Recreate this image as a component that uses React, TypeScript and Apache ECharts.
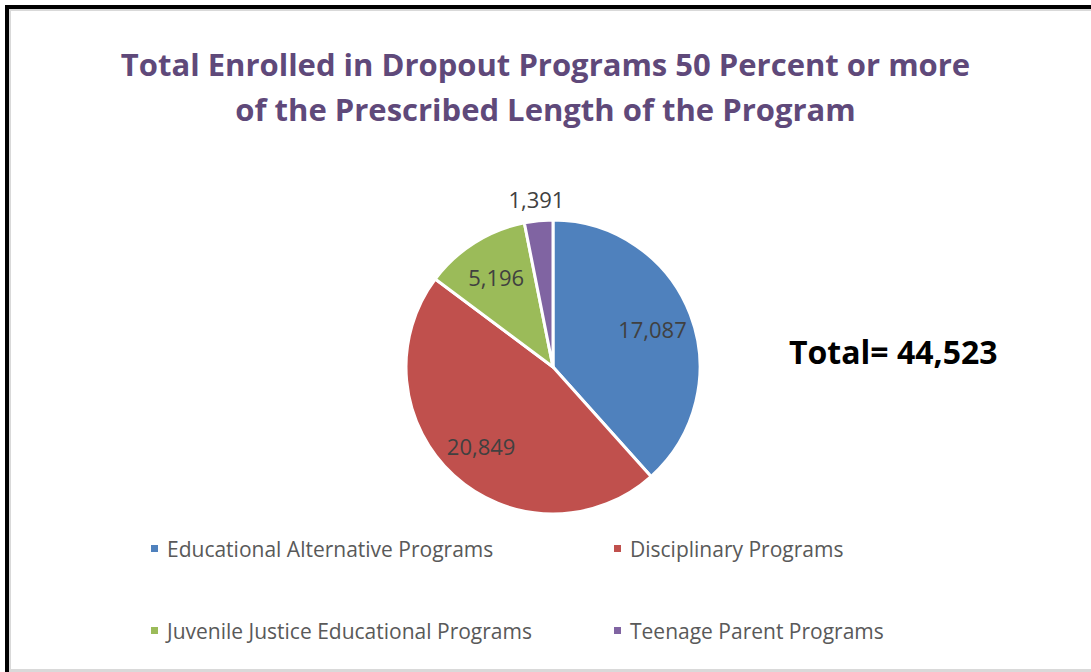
import React, { useEffect, useRef } from "react";
import * as echarts from "echarts";

const categories = [
  "Educational Alternative Programs",
  "Disciplinary Programs",
  "Juvenile Justice Educational Programs",
  "Teenage Parent Programs",
];
const values = [17087, 20849, 5196, 1391];
const colors = ["#4F81BD", "#C0504D", "#9BBB59", "#8064A2"];
const titleText = "Total Enrolled in Dropout Programs 50 Percent or more\nof the Prescribed Length of the Program";
const totalText = "Total= 44,523";

const FONT = "'Open Sans', 'Noto Sans', sans-serif";

const fmt = (v: number) => v.toLocaleString("en-US");

export default function App() {
  const ref = useRef<HTMLDivElement>(null);
  useEffect(() => {
    if (!ref.current) return;
    const chart = echarts.init(ref.current, null, { renderer: "svg" });
    const data = categories.map((name, i) => ({
      name,
      value: values[i],
      itemStyle: { color: colors[i] },
    }));
    const center = [553, 367];
    const legendPos = [
      { left: 144, top: 533 },
      { left: 607, top: 533 },
      { left: 144, top: 615 },
      { left: 607, top: 615 },
    ];
    const labelStyle = {
      show: true,
      position: "inside",
      formatter: (p: any) => fmt(p.value),
      fontFamily: FONT,
      fontSize: 22,
      color: "#404040",
    };
    chart.setOption({
      animation: false,
      title: {
        text: titleText,
        left: "center",
        top: 36,
        textStyle: {
          fontFamily: FONT,
          fontWeight: "bold",
          fontSize: 31,
          lineHeight: 45,
          color: "#5F497A",
        },
      },
      legend: categories.map((name, i) => ({
        data: [name],
        left: legendPos[i].left,
        top: legendPos[i].top,
        icon: "rect",
        itemWidth: 9,
        itemHeight: 9,
        selectedMode: false,
        textStyle: {
          fontFamily: FONT,
          fontSize: 21,
          color: "#595959",
          padding: [0, 0, 0, 3],
        },
      })),
      graphic: [
        { type: "rect", shape: { x: 5, y: 5, width: 4, height: 667 }, style: { fill: "#000" } },
        { type: "rect", shape: { x: 5, y: 5, width: 1086, height: 4 }, style: { fill: "#000" } },
        { type: "rect", shape: { x: 9, y: 9, width: 2, height: 663 }, style: { fill: "#D9D9D9" } },
        { type: "rect", shape: { x: 9, y: 9, width: 1082, height: 2 }, style: { fill: "#D9D9D9" } },
        { type: "rect", shape: { x: 9, y: 669, width: 1082, height: 3 }, style: { fill: "#D9D9D9" } },
        {
          type: "text",
          x: 789,
          y: 351,
          style: {
            text: totalText,
            fontFamily: FONT,
            fontWeight: "bold",
            fontSize: 32,
            fill: "#000",
            verticalAlign: "middle",
            textAlign: "left",
          },
        },
      ],
      series: [
        {
          type: "pie",
          center,
          radius: [0, 147],
          startAngle: 90,
          clockwise: true,
          data,
          itemStyle: { borderColor: "#fff", borderWidth: 3 },
          label: { show: false },
          labelLine: { show: false },
          emphasis: { disabled: true },
        },
        {
          type: "pie",
          center,
          radius: [60, 147],
          startAngle: 90,
          clockwise: true,
          silent: true,
          data: data.map((d, i) => ({
            name: d.name,
            value: d.value,
            itemStyle: { color: "rgba(0,0,0,0)", borderWidth: 0 },
            label: { show: i < 3 },
          })),
          label: labelStyle,
          labelLine: { show: false },
          emphasis: { disabled: true },
        },
        {
          type: "pie",
          center,
          radius: [158, 174],
          startAngle: 90,
          clockwise: true,
          silent: true,
          data: data.map((d, i) => ({
            name: d.name,
            value: d.value,
            itemStyle: { color: "rgba(0,0,0,0)", borderWidth: 0 },
            label: { show: i === 3 },
          })),
          label: labelStyle,
          labelLine: { show: false },
          emphasis: { disabled: true },
        },
      ],
    });
    return () => chart.dispose();
  }, []);
  return (
    <div
      ref={ref}
      style={{ position: "fixed", left: 0, top: 0, width: 1091, height: 672, background: "#fff" }}
    />
  );
}
